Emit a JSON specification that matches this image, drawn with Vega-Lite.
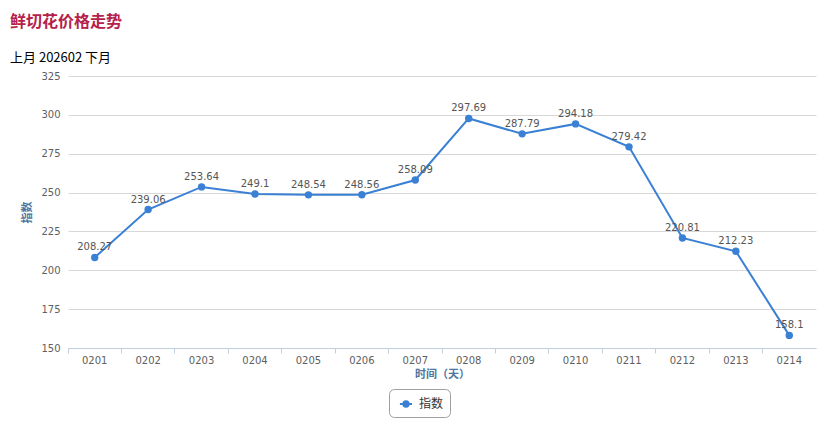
{
  "$schema": "https://vega.github.io/schema/vega-lite/v6.json",
  "width": 748,
  "height": 272,
  "autosize": {"type": "none"},
  "padding": {"left": 68, "top": 76, "right": 16, "bottom": 88},
  "background": "white",
  "config": {"view": {"stroke": null}},
  "title": {
    "text": "鲜切花价格走势",
    "subtitle": "上月  202602  下月",
    "anchor": "start",
    "frame": "group",
    "dx": -58,
    "dy": -2,
    "font": "Noto Sans CJK SC",
    "fontSize": 16,
    "fontWeight": "bold",
    "color": "#b5214b",
    "subtitleFont": "Noto Sans CJK SC",
    "subtitleFontSize": 13,
    "subtitleColor": "#000000",
    "subtitlePadding": 22,
    "offset": 4
  },
  "data": {
    "values": [
      {"day": "0201", "value": 208.27, "series": "指数"},
      {"day": "0202", "value": 239.06, "series": "指数"},
      {"day": "0203", "value": 253.64, "series": "指数"},
      {"day": "0204", "value": 249.1, "series": "指数"},
      {"day": "0205", "value": 248.54, "series": "指数"},
      {"day": "0206", "value": 248.56, "series": "指数"},
      {"day": "0207", "value": 258.09, "series": "指数"},
      {"day": "0208", "value": 297.69, "series": "指数"},
      {"day": "0209", "value": 287.79, "series": "指数"},
      {"day": "0210", "value": 294.18, "series": "指数"},
      {"day": "0211", "value": 279.42, "series": "指数"},
      {"day": "0212", "value": 220.81, "series": "指数"},
      {"day": "0213", "value": 212.23, "series": "指数"},
      {"day": "0214", "value": 158.1, "series": "指数"}
    ]
  },
  "encoding": {
    "x": {
      "field": "day",
      "type": "ordinal",
      "scale": {"type": "band", "paddingInner": 0, "paddingOuter": 0},
      "axis": {
        "title": "时间（天）",
        "titleFont": "Noto Sans CJK SC",
        "titleFontSize": 11,
        "titleFontWeight": "bold",
        "titleColor": "#4d759e",
        "titlePadding": 3,
        "labelAngle": 0,
        "labelFont": "DejaVu Sans",
        "labelFontSize": 10,
        "labelColor": "#606060",
        "labelPadding": 2,
        "domainColor": "#c0d0e0",
        "ticks": true,
        "tickColor": "#c0d0e0",
        "tickSize": 5,
        "bandPosition": 0,
        "labelBound": false,
        "grid": false
      }
    },
    "y": {
      "field": "value",
      "type": "quantitative",
      "scale": {"domain": [150, 325], "nice": false, "zero": false},
      "axis": {
        "title": "指数",
        "titleFont": "Noto Sans CJK SC",
        "titleFontSize": 11,
        "titleFontWeight": "bold",
        "titleColor": "#4d759e",
        "titlePadding": 8,
        "values": [150, 175, 200, 225, 250, 275, 300, 325],
        "labelFont": "DejaVu Sans",
        "labelFontSize": 10,
        "labelColor": "#606060",
        "labelPadding": 8,
        "domain": false,
        "ticks": false,
        "grid": true,
        "gridColor": "#d8d8d8",
        "gridWidth": 1
      }
    }
  },
  "layer": [
    {
      "mark": {"type": "line", "strokeWidth": 2, "color": "#3a80d4"},
      "encoding": {
        "color": {
          "field": "series",
          "type": "nominal",
          "scale": {"range": ["#3a80d4"]},
          "legend": {
            "title": null,
            "orient": "none",
            "legendX": 321,
            "legendY": 313,
            "direction": "horizontal",
            "labelFont": "Noto Sans CJK SC",
            "labelFontSize": 12,
            "labelColor": "#333333",
            "symbolType": "M-0.8,0L0.8,0M-0.35,0A0.35,0.35 0 1,1 0.35,0A0.35,0.35 0 1,1 -0.35,0Z",
            "symbolSize": 230,
            "symbolFillColor": "#3a80d4",
            "symbolStrokeColor": "#3a80d4",
            "symbolStrokeWidth": 2,
            "symbolOffset": 2,
            "strokeColor": "#a0a0a0",
            "cornerRadius": 5,
            "padding": 6
          }
        }
      }
    },
    {
      "mark": {"type": "point", "filled": true, "size": 55, "color": "#3a80d4", "opacity": 1}
    },
    {
      "mark": {"type": "text", "dy": -10, "font": "DejaVu Sans", "fontSize": 10, "color": "#555555"},
      "encoding": {"text": {"field": "value", "type": "quantitative"}}
    }
  ]
}
